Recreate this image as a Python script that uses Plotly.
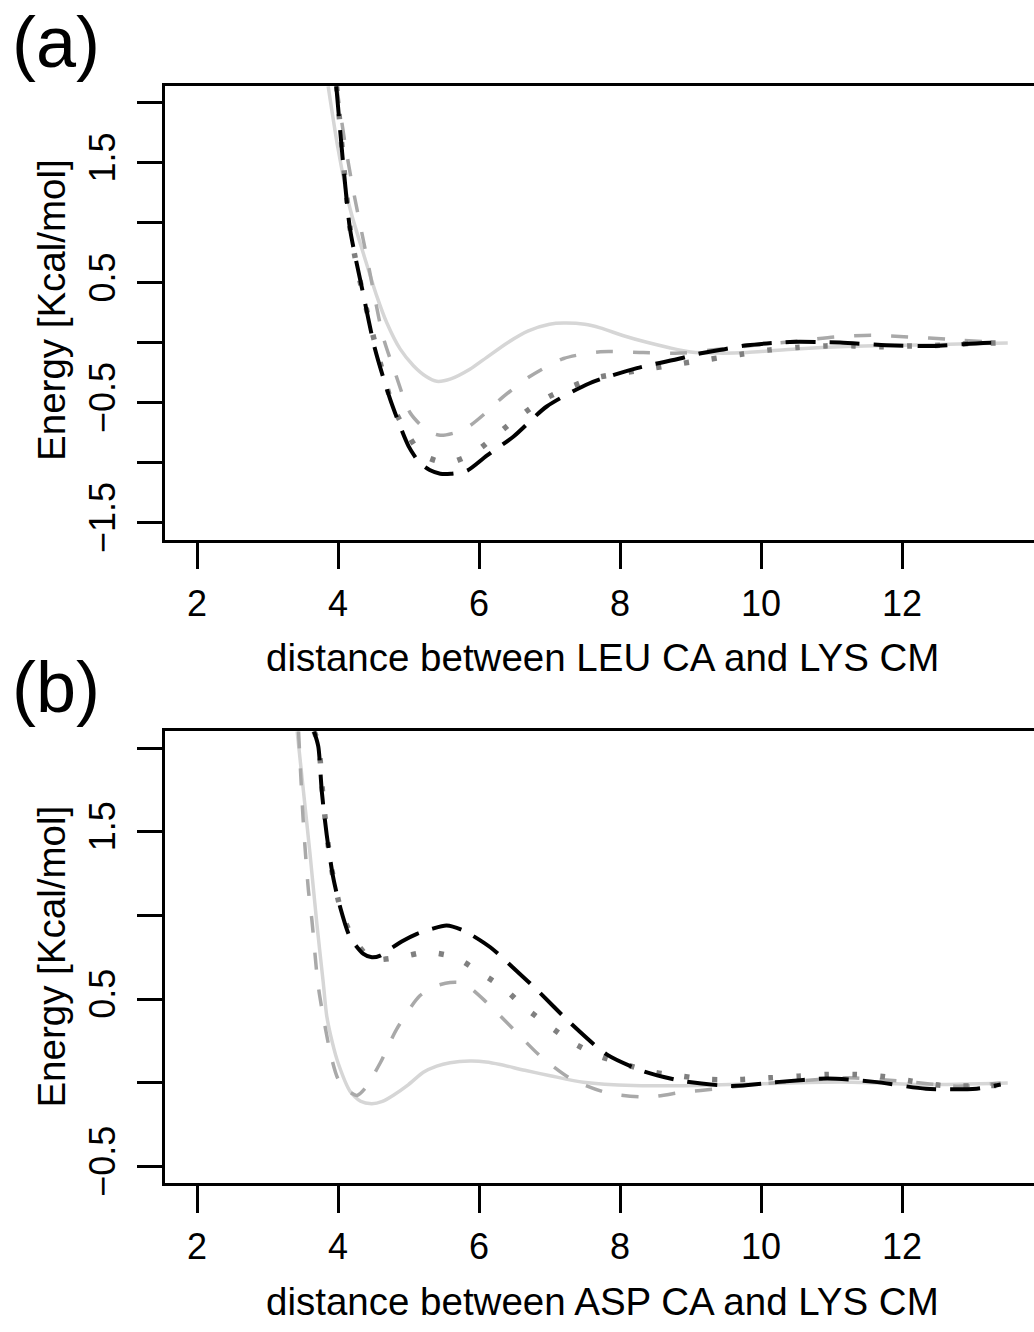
import plotly.graph_objects as go

# ---------------- data: panel (a) LEU CA - LYS CM ----------------
a_solid_x = [3.86, 4.0, 4.17, 4.41, 4.55, 4.69, 4.88, 5.07, 5.25, 5.40, 5.6, 5.87, 6.11, 6.4, 6.7, 7.0, 7.2,
             7.5, 7.72, 8.05, 8.38, 8.7, 9.0, 9.4, 9.8, 10.5, 11.2, 12.0, 12.8, 13.5]
a_solid_y = [2.14, 1.62, 1.12, 0.65, 0.39, 0.17, -0.05, -0.19, -0.28, -0.32, -0.30, -0.22, -0.12, 0.0, 0.1, 0.155,
             0.165, 0.155, 0.125, 0.06, 0.005, -0.04, -0.075, -0.085, -0.08, -0.05, -0.03, -0.02, -0.01, 0.0]

a_dash_x = [3.98, 4.1, 4.22, 4.41, 4.52, 4.64, 4.81, 5.02, 5.26, 5.45, 5.65, 5.87, 6.1, 6.3, 6.72, 7.2, 7.72,
            8.33, 8.85, 9.3, 9.9, 10.55, 11.05, 11.57, 12.09, 12.66, 13.4]
a_dash_y = [2.14, 1.66, 1.26, 0.71, 0.38, 0.05, -0.25, -0.58, -0.73, -0.77, -0.75, -0.69, -0.58, -0.47, -0.28,
            -0.13, -0.074, -0.08, -0.085, -0.06, -0.02, 0.017, 0.05, 0.063, 0.05, 0.03, 0.0]

a_dot_x = [3.98, 4.17, 4.27, 4.45, 4.78, 4.96, 5.19, 5.56, 5.94, 6.26, 6.58, 6.92, 7.28, 7.66, 8.05, 8.47, 8.89,
           9.28, 9.70, 10.10, 10.51, 10.92, 11.32, 11.73, 12.14, 12.54, 12.96, 13.39]
a_dot_y = [2.14, 0.96, 0.63, 0.17, -0.53, -0.73, -0.93, -1.0, -0.91, -0.76, -0.61, -0.47, -0.37, -0.29, -0.25,
           -0.21, -0.17, -0.135, -0.096, -0.06, -0.038, -0.025, -0.025, -0.033, -0.025, -0.02, -0.005, 0.0]

a_long_x = [3.975, 4.08, 4.17, 4.36, 4.52, 4.74, 5.0, 5.16, 5.3, 5.45, 5.6, 5.83, 6.11, 6.49, 6.96, 7.57, 8.24,
            8.85, 9.13, 9.5, 9.8, 10.41, 11.12, 11.78, 12.44, 13.15, 13.4]
a_long_y = [2.14, 1.45, 0.95, 0.40, -0.04, -0.47, -0.86, -1.0, -1.06, -1.09, -1.09, -1.065, -0.94, -0.78, -0.53,
            -0.336, -0.21, -0.13, -0.088, -0.05, -0.02, 0.008, 0.003, -0.02, -0.025, 0.0, 0.0]

# ---------------- data: panel (b) ASP CA - LYS CM ----------------
b_solid_x = [3.42, 3.5, 3.6, 3.7, 3.79, 3.84, 3.92, 4.0, 4.17, 4.32, 4.48, 4.63, 4.78, 5.0, 5.21, 5.4, 5.59, 5.87,
             6.1, 6.30, 6.65, 7.01, 7.48, 8.19, 9.09, 10.0, 11.13, 12.3, 13.5]
b_solid_y = [2.1, 1.78, 1.38, 0.95, 0.6, 0.4, 0.24, 0.12, -0.05, -0.11, -0.124, -0.11, -0.075, -0.01, 0.063, 0.1,
             0.12, 0.13, 0.125, 0.11, 0.075, 0.043, 0.004, -0.016, -0.015, -0.005, 0.005, -0.01, 0.0]

b_dash_x = [3.44, 3.51, 3.58, 3.63, 3.70, 3.74, 3.89, 4.0, 4.15, 4.27, 4.38, 4.60, 4.83, 5.16, 5.4, 5.59, 5.78,
            6.11, 6.49, 6.87, 7.30, 7.82, 8.38, 8.9, 9.39, 9.9, 10.5, 11.2, 12.0, 12.8, 13.4]
b_dash_y = [2.1, 1.54, 1.15, 0.97, 0.65, 0.52, 0.18, 0.024, -0.05, -0.075, -0.035, 0.12, 0.32, 0.52, 0.58, 0.60,
            0.595, 0.48, 0.32, 0.16, 0.025, -0.06, -0.085, -0.055, -0.035, -0.01, 0.01, 0.03, 0.01, -0.02, 0.0]

b_dot_x = [3.66, 3.72, 3.79, 3.9, 4.05, 4.22, 4.48, 4.86, 5.26, 5.66, 6.01, 6.35, 6.65, 6.98, 7.31, 7.69, 8.08,
           8.47, 8.88, 9.29, 9.70, 10.11, 10.53, 10.94, 11.35, 11.76, 12.14, 12.55, 12.96, 13.38]
b_dot_y = [2.1, 2.03, 1.69, 1.3, 1.02, 0.86, 0.74, 0.75, 0.78, 0.75, 0.66, 0.565, 0.45, 0.345, 0.245, 0.163, 0.11,
           0.065, 0.04, 0.02, 0.02, 0.03, 0.04, 0.05, 0.05, 0.036, 0.01, -0.015, -0.018, -0.015]

b_long_x = [3.66, 3.72, 3.77, 3.84, 3.93, 4.03, 4.17, 4.36, 4.48, 4.6, 4.74, 4.93, 5.12, 5.33, 5.54, 5.78, 6.16,
            6.53, 6.82, 7.29, 7.81, 8.33, 8.9, 9.58, 10.26, 10.94, 11.61, 12.34, 13.06, 13.4]
b_long_y = [2.1, 2.01, 1.74, 1.48, 1.23, 1.05, 0.87, 0.77, 0.75, 0.76, 0.80, 0.85, 0.89, 0.92, 0.94, 0.91, 0.81,
            0.67, 0.556, 0.36, 0.17, 0.07, 0.01, -0.018, 0.006, 0.026, 0.006, -0.035, -0.035, -0.01]

x_ticks = [2, 4, 6, 8, 10, 12]
a_y_ticks = [-1.5, -1.0, -0.5, 0.0, 0.5, 1.0, 1.5, 2.0]
a_y_text = ["\u22121.5", "", "\u22120.5", "", "0.5", "", "1.5", ""]
b_y_ticks = [-0.5, 0.0, 0.5, 1.0, 1.5, 2.0]
b_y_text = ["\u22120.5", "", "0.5", "", "1.5", ""]

x_title_a = "distance between LEU CA and LYS CM"
x_title_b = "distance between ASP CA and LYS CM"
y_title = "Energy [Kcal/mol]"

# ---------------- figure ----------------
W, H = 1034, 1332
FONT = "Liberation Sans, Arial, Helvetica, sans-serif"
FS = 36
FS_T = 38.5

styles = [
    dict(color="#d6d6d6", width=3.5, dash="solid"),
    dict(color="#a9a9a9", width=3.5, dash="17px,20px"),
    dict(color="#808080", width=5.5, dash="5px,23px"),
    dict(color="#000000", width=4, dash="30px,14px"),
]

fig = go.Figure()
panels = [
    ("x", "y", [(a_solid_x, a_solid_y), (a_dash_x, a_dash_y), (a_dot_x, a_dot_y), (a_long_x, a_long_y)]),
    ("x2", "y2", [(b_solid_x, b_solid_y), (b_dash_x, b_dash_y), (b_dot_x, b_dot_y), (b_long_x, b_long_y)]),
]
for xa, ya, series in panels:
    for (xs, ys), st in zip(series, styles):
        fig.add_trace(go.Scatter(x=xs, y=ys, mode="lines", xaxis=xa, yaxis=ya,
                                 line=dict(color=st["color"], width=st["width"], dash=st["dash"],
                                           shape="spline", smoothing=0.7),
                                 showlegend=False, hoverinfo="skip"))

def px_x(p):
    return p / W

def px_y(p):
    return 1 - p / H

x_left = 164.6
x_rng = [1.54, 2 + (W - 197) / 70.5]
common_x = dict(range=x_rng, tickvals=x_ticks, ticks="outside", ticklen=27, tickwidth=2.5, tickcolor="black",
                showline=True, linecolor="black", linewidth=2.5, mirror=True, showgrid=False, zeroline=False,
                ticklabelstandoff=3,
                tickfont=dict(family=FONT, size=FS, color="black"), domain=[px_x(x_left), 1.0])
common_y = dict(ticks="outside", ticklen=25, tickwidth=2.5, tickcolor="black", showline=True, linecolor="black",
                linewidth=2.5, mirror=False, showgrid=False, zeroline=False, tickangle=-90,
                ticklabelstandoff=7,
                tickfont=dict(family=FONT, size=FS, color="black"))

fig.update_layout(
    width=W, height=H, autosize=False,
    margin=dict(l=0, r=0, t=0, b=0),
    paper_bgcolor="white", plot_bgcolor="white",
    xaxis=dict(**common_x, anchor="y"),
    yaxis=dict(**common_y, anchor="x", range=[-1.64, 2.14], tickvals=a_y_ticks, ticktext=a_y_text,
               domain=[px_y(545), px_y(87)]),
    xaxis2=dict(**common_x, anchor="y2"),
    yaxis2=dict(**common_y, anchor="x2", range=[-0.6, 2.1], tickvals=b_y_ticks, ticktext=b_y_text,
                domain=[px_y(1195), px_y(738.5)]),
)

ann = []
ann.append(dict(text="(a)", x=px_x(10), y=px_y(42), xanchor="left", yanchor="middle",
                font=dict(family=FONT, size=72, color="black")))
ann.append(dict(text="(b)", x=px_x(10), y=px_y(694), xanchor="left", yanchor="middle",
                font=dict(family=FONT, size=72, color="black")))
ann.append(dict(text=x_title_a, x=px_x(602), y=px_y(664), xanchor="center", yanchor="middle",
                font=dict(family=FONT, size=FS_T, color="black")))
ann.append(dict(text=x_title_b, x=px_x(602), y=px_y(1314), xanchor="center", yanchor="middle",
                font=dict(family=FONT, size=FS_T, color="black")))
ann.append(dict(text=y_title, x=px_x(52), y=px_y(313), xanchor="center", yanchor="middle", textangle=-90,
                font=dict(family=FONT, size=FS_T, color="black")))
ann.append(dict(text=y_title, x=px_x(52), y=px_y(966), xanchor="center", yanchor="middle", textangle=-90,
                font=dict(family=FONT, size=FS_T, color="black")))
for a in ann:
    a.update(xref="paper", yref="paper", showarrow=False)
fig.update_layout(annotations=ann)

fig.write_html("out.html")
